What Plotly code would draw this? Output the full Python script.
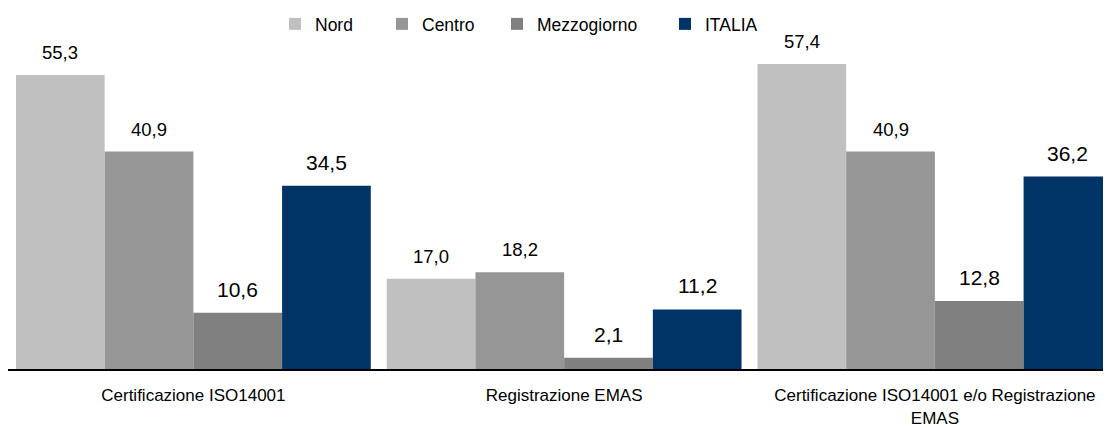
import plotly.graph_objects as go

categories = ["Certificazione ISO14001", "Registrazione EMAS",
              "Certificazione ISO14001 e/o Registrazione<br>EMAS"]
series_names = ["Nord", "Centro", "Mezzogiorno", "ITALIA"]
nord = [55.3, 17.0, 57.4]
centro = [40.9, 18.2, 40.9]
mezzogiorno = [10.6, 2.1, 12.8]
italia = [34.5, 11.2, 36.2]

colors = ["#c0c0c0", "#969696", "#808080", "#003366"]
label_sizes = [18.5, 18.5, 21, 21]
values = [nord, centro, mezzogiorno, italia]

FONT = "Liberation Sans, Arial, sans-serif"

# page body adds an 8px offset; figure sized to fill the remaining window
W, H = 1103, 420
ml, mr, mt, mb = 0, 0, 32, 59
bargap = 0.043
x_range = [-0.5, 2.475]
y_range = [0, 61.9]
plot_w = W - ml - mr
plot_h = H - mt - mb

fig = go.Figure()
legend_left_screen = [275, 382, 497, 665]
for i, (name, vals) in enumerate(zip(series_names, values)):
    lg = "legend" if i == 0 else f"legend{i+1}"
    fig.add_trace(go.Bar(
        name=name, x=list(range(len(categories))), y=vals,
        marker=dict(color=colors[i], line=dict(width=0)),
        legend=lg, hoverinfo="skip",
    ))

nser = len(series_names)
bw = (1 - bargap) / nser
annotations = []
for i, vals in enumerate(values):
    off = (i - (nser - 1) / 2) * bw
    for j, v in enumerate(vals):
        annotations.append(dict(
            x=j + off, y=v, xref="x", yref="y",
            text=f"{v:.1f}".replace(".", ","), showarrow=False,
            yanchor="bottom", yshift=10,
            font=dict(family=FONT, size=label_sizes[i], color="#000000"),
        ))

layout_legends = {}
for i in range(nser):
    key = "legend" if i == 0 else f"legend{i+1}"
    layout_legends[key] = dict(
        x=(legend_left_screen[i] - 8 - ml) / plot_w,
        y=(H - mb - 16) / plot_h,
        xanchor="left", yanchor="middle", orientation="h",
        bgcolor="rgba(0,0,0,0)", borderwidth=0,
        font=dict(family=FONT, size=17.5, color="#000000"),
        itemwidth=30, itemclick=False, itemdoubleclick=False,
    )

fig.update_layout(
    width=W, height=H,
    margin=dict(l=ml, r=mr, t=mt, b=mb, autoexpand=False),
    paper_bgcolor="white", plot_bgcolor="white",
    barmode="group", bargap=bargap, bargroupgap=0,
    showlegend=True,
    annotations=annotations,
    xaxis=dict(
        range=x_range, tickmode="array", tickvals=list(range(len(categories))),
        ticktext=categories, showgrid=False, zeroline=False,
        showline=True, linecolor="#000000", linewidth=2,
        ticks="", ticklabelstandoff=10,
        tickfont=dict(family=FONT, size=17, color="#000000"),
        fixedrange=True, automargin=False,
    ),
    yaxis=dict(
        range=y_range, visible=False, showgrid=False, zeroline=False,
        fixedrange=True, automargin=False,
    ),
    **layout_legends,
)

fig.write_html("out.html")
